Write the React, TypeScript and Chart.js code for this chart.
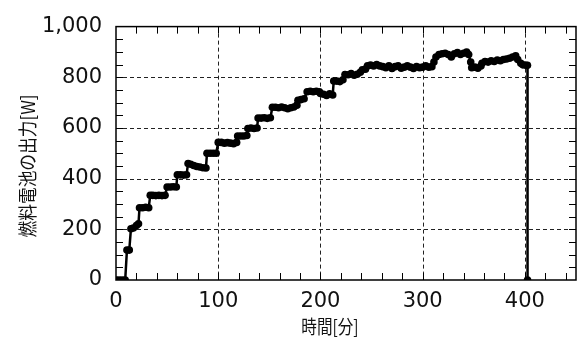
import React, { useEffect, useRef } from "react";
import { Chart, registerables } from "chart.js";

Chart.register(...registerables);

const timeMin: number[] = [
  0, 3, 6, 9, 10.7, 13, 14.6, 17, 20, 22, 23, 26, 29, 32, 33.5, 36, 39, 42, 45, 48,
  50, 53, 56, 59, 60, 63, 66, 69, 70.5, 73, 76, 79, 82, 85, 88, 89, 92, 95, 98,
  100, 103, 106, 109, 112, 115, 118, 119, 122, 125, 128, 129, 132, 135, 138,
  139, 142, 145, 148, 151, 153, 156, 159, 162, 165, 168, 171, 174, 177, 178,
  181, 184, 187, 190, 193, 196, 199, 200, 203, 206, 209, 212, 213, 216, 219,
  222, 224, 227, 230, 233, 236, 239, 241, 244, 246, 249, 252, 255, 258, 261,
  264, 267, 270, 273, 276, 279, 282, 285, 288, 291, 294, 297, 300, 303, 306,
  309, 311, 313, 316, 319, 322, 325, 328, 331, 334, 337, 340, 343, 345, 347,
  348, 351, 354, 357, 358, 361, 364, 367, 370, 373, 376, 379, 382, 385, 388,
  391, 393, 396, 398, 401, 402.5, 402.6,
];

const powerW: number[] = [
  0, 0, 0, 0, 118, 118, 202, 205, 215, 222, 285, 285, 287, 285, 334, 334, 333, 334, 333, 334,
  367, 367, 368, 367, 415, 415, 414, 415, 460, 457, 452, 448, 446, 443, 442, 500, 500, 500, 500,
  543, 543, 540, 542, 540, 538, 543, 568, 568, 568, 570, 598, 600, 598, 600,
  639, 639, 640, 638, 640, 682, 682, 680, 683, 680, 676, 680, 683, 690, 709,
  712, 715, 743, 745, 743, 745, 743, 736, 733, 728, 735, 730, 785, 785, 783,
  790, 811, 810, 815, 808, 812, 820, 830, 832, 845, 848, 845, 850, 845, 842,
  838, 845, 835, 842, 845, 836, 840, 845, 840, 835, 842, 838, 840, 845, 840,
  842, 860, 880, 890, 893, 895, 890, 880, 893, 898, 890, 895, 900, 890, 860,
  838, 840, 836, 845, 855, 862, 860, 865, 862, 868, 865, 870, 872, 875, 880,
  885, 870, 855, 849, 847, 847, 0,
];

const xTickValues: number[] = [0, 100, 200, 300, 400];
const yTickValues: number[] = [0, 200, 400, 600, 800, 1000];
const xMinorStep = 20;
const yMinorStep = 50;
const xTitle = "時間[分]";
const yTitle = "燃料電池の出力[W]";

const FONT = "'DejaVu Sans', 'Noto Sans CJK JP', sans-serif";
const CJK = "'Noto Sans CJK JP', sans-serif";

const framePlugin = {
  id: "frameTicks",
  beforeDatasetsDraw(chart: any) {
    const { ctx, chartArea: a, scales } = chart;
    const xs = scales.x;
    const ys = scales.y;
    ctx.save();
    ctx.strokeStyle = "#222";
    ctx.lineWidth = 1;
    ctx.setLineDash([4, 3]);
    ctx.beginPath();
    for (const v of xTickValues) {
      if (v <= xs.min || v >= xs.max) continue;
      const px = Math.round(xs.getPixelForValue(v)) + 0.5;
      ctx.moveTo(px, a.top);
      ctx.lineTo(px, a.bottom);
    }
    for (const v of yTickValues) {
      if (v <= ys.min || v >= ys.max) continue;
      const py = Math.round(ys.getPixelForValue(v)) + 0.5;
      ctx.moveTo(a.left, py);
      ctx.lineTo(a.right, py);
    }
    ctx.stroke();
    ctx.restore();
  },
  afterDraw(chart: any) {
    const { ctx, chartArea: a, scales } = chart;
    const xs = scales.x;
    const ys = scales.y;
    ctx.save();
    ctx.strokeStyle = "#000";
    ctx.lineWidth = 1;
    ctx.setLineDash([]);
    const L = 7;
    ctx.beginPath();
    for (let v = xs.min + xMinorStep; v < xs.max; v += xMinorStep) {
      const px = Math.round(xs.getPixelForValue(v)) + 0.5;
      ctx.moveTo(px, a.bottom);
      ctx.lineTo(px, a.bottom - L);
      ctx.moveTo(px, a.top);
      ctx.lineTo(px, a.top + L);
    }
    for (let v = ys.min + yMinorStep; v < ys.max; v += yMinorStep) {
      const py = Math.round(ys.getPixelForValue(v)) + 0.5;
      ctx.moveTo(a.left, py);
      ctx.lineTo(a.left + L, py);
      ctx.moveTo(a.right, py);
      ctx.lineTo(a.right - L, py);
    }
    ctx.stroke();
    ctx.lineWidth = 1.5;
    ctx.strokeRect(a.left, a.top, a.right - a.left, a.bottom - a.top);

    ctx.fillStyle = "#111";
    ctx.font = `19px ${CJK}`;
    ctx.textAlign = "center";
    ctx.textBaseline = "middle";
    ctx.save();
    ctx.translate(330, 327);
    ctx.scale(0.82, 1);
    ctx.fillText(xTitle, 0, 0);
    ctx.restore();
    ctx.translate(28, 166);
    ctx.rotate(-Math.PI / 2);
    ctx.scale(0.88, 1);
    ctx.fillText(yTitle, 0, 0);
    ctx.restore();
  },
};

export default function App() {
  const ref = useRef<HTMLCanvasElement | null>(null);
  useEffect(() => {
    document.body.style.margin = "0";
    if (!ref.current) return;
    const chart = new Chart(ref.current, {
      type: "line",
      data: {
        datasets: [
          {
            data: timeMin.map((t, i) => ({ x: t, y: powerW[i] })),
            borderColor: "#000",
            backgroundColor: "#000",
            borderWidth: 2.5,
            pointRadius: 3.8,
            pointBorderWidth: 0,
            pointBackgroundColor: "#000",
            tension: 0,
          },
        ],
      },
      options: {
        animation: false,
        responsive: false,
        maintainAspectRatio: false,
        layout: { padding: { top: 19, right: 3, left: 0, bottom: 0 } },
        plugins: { legend: { display: false }, tooltip: { enabled: false } },
        scales: {
          x: {
            type: "linear",
            min: 0,
            max: 450,
            grid: { display: false, drawTicks: false },
            border: { display: false },
            afterBuildTicks: (s: any) => {
              s.ticks = xTickValues.map((v) => ({ value: v }));
            },
            afterFit: (s: any) => {
              s.height = 65;
            },
            ticks: {
              padding: 9,
              color: "#111",
              font: { family: FONT, size: 21 },
              maxRotation: 0,
            },
          },
          y: {
            type: "linear",
            min: 0,
            max: 1000,
            grid: { display: false, drawTicks: false },
            border: { display: false },
            afterBuildTicks: (s: any) => {
              s.ticks = yTickValues.map((v) => ({ value: v }));
            },
            afterFit: (s: any) => {
              s.width = 116;
            },
            ticks: {
              padding: 14,
              color: "#111",
              font: { family: FONT, size: 21 },
              callback: (v: any) => Number(v).toLocaleString("en-US"),
            },
          },
        },
      },
      plugins: [framePlugin],
    });
    return () => chart.destroy();
  }, []);
  return (
    <div style={{ width: 580, height: 345 }}>
      <canvas ref={ref} width={580} height={345} style={{ display: "block" }} />
    </div>
  );
}
